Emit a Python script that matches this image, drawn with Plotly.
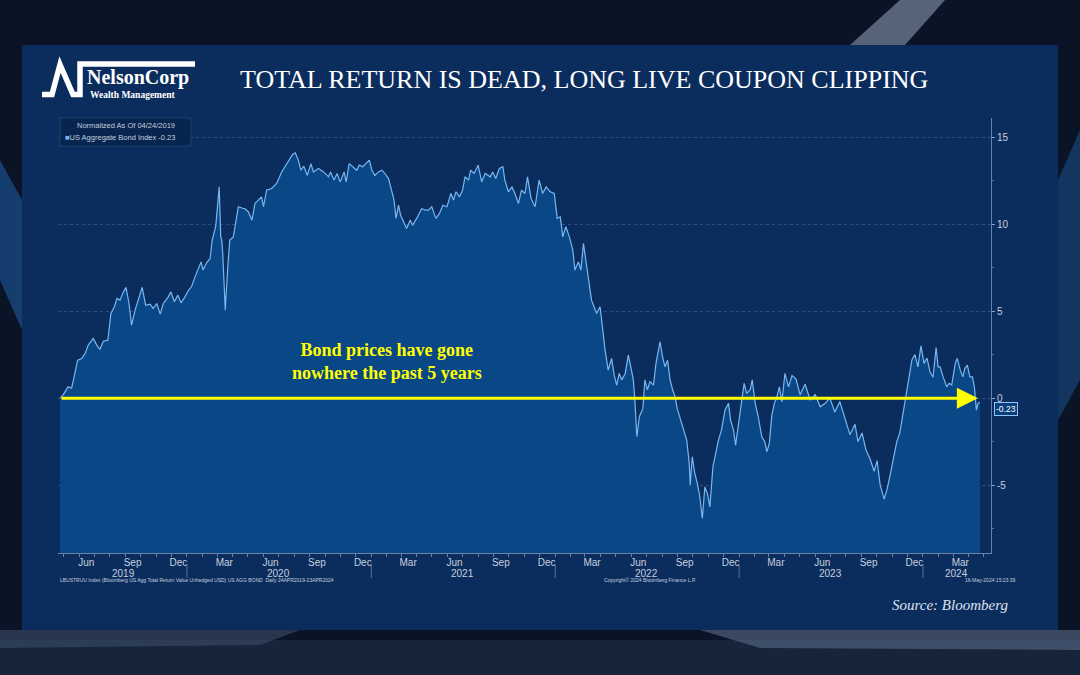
import plotly.graph_objects as go

# ---------------- DATA ----------------
dates = [
    "2019-04-24", "2019-04-30", "2019-05-10", "2019-05-17", "2019-05-22", "2019-05-29",
    "2019-06-06", "2019-06-13", "2019-06-19", "2019-06-29", "2019-07-06", "2019-07-12",
    "2019-07-19", "2019-07-28", "2019-08-03", "2019-08-10", "2019-08-15", "2019-08-21",
    "2019-08-28", "2019-09-02", "2019-09-08", "2019-09-13", "2019-09-20", "2019-09-26",
    "2019-10-04", "2019-10-11", "2019-10-20", "2019-10-26", "2019-11-02", "2019-11-09",
    "2019-11-15", "2019-11-25", "2019-11-30", "2019-12-07", "2019-12-14", "2019-12-20",
    "2019-12-28", "2020-01-04", "2020-01-10", "2020-01-17", "2020-01-24", "2020-01-29",
    "2020-02-02", "2020-02-09", "2020-02-16", "2020-02-20", "2020-02-27", "2020-03-05",
    "2020-03-08", "2020-03-10", "2020-03-12", "2020-03-17", "2020-03-22", "2020-03-26",
    "2020-04-02", "2020-04-07", "2020-04-12", "2020-04-22", "2020-04-25", "2020-05-02",
    "2020-05-09", "2020-05-15", "2020-05-22", "2020-05-28", "2020-06-01", "2020-06-07",
    "2020-06-17", "2020-06-27", "2020-07-07", "2020-07-17", "2020-07-24", "2020-07-29",
    "2020-08-03", "2020-08-09", "2020-08-14", "2020-08-20", "2020-08-27", "2020-09-03",
    "2020-09-08", "2020-09-18", "2020-09-28", "2020-10-08", "2020-10-12", "2020-10-19",
    "2020-10-25", "2020-10-31", "2020-11-08", "2020-11-12", "2020-11-18", "2020-11-26",
    "2020-12-03", "2020-12-08", "2020-12-15", "2020-12-21", "2020-12-28", "2021-01-02",
    "2021-01-08", "2021-01-15", "2021-01-22", "2021-01-28", "2021-02-04", "2021-02-10",
    "2021-02-15", "2021-02-19", "2021-02-24", "2021-02-28", "2021-03-05", "2021-03-12",
    "2021-03-19", "2021-03-24", "2021-04-01", "2021-04-11", "2021-04-18", "2021-04-24",
    "2021-05-01", "2021-05-09", "2021-05-16", "2021-05-23", "2021-05-31", "2021-06-08",
    "2021-06-13", "2021-06-18", "2021-06-25", "2021-07-01", "2021-07-06", "2021-07-13",
    "2021-07-17", "2021-07-24", "2021-08-01", "2021-08-08", "2021-08-15", "2021-08-25",
    "2021-08-30", "2021-09-05", "2021-09-12", "2021-09-19", "2021-09-23", "2021-09-30",
    "2021-10-07", "2021-10-13", "2021-10-20", "2021-10-26", "2021-11-02", "2021-11-07",
    "2021-11-14", "2021-11-22", "2021-11-30", "2021-12-07", "2021-12-14", "2021-12-22",
    "2021-12-30", "2022-01-05", "2022-01-11", "2022-01-16", "2022-01-22", "2022-01-29",
    "2022-02-05", "2022-02-09", "2022-02-16", "2022-02-21", "2022-02-26", "2022-03-03",
    "2022-03-08", "2022-03-14", "2022-03-19", "2022-03-24", "2022-03-31", "2022-04-05",
    "2022-04-10", "2022-04-16", "2022-04-23", "2022-04-28", "2022-05-03", "2022-05-08",
    "2022-05-13", "2022-05-20", "2022-05-26", "2022-05-31", "2022-06-05", "2022-06-08",
    "2022-06-12", "2022-06-17", "2022-06-24", "2022-06-28", "2022-07-03", "2022-07-08",
    "2022-07-15", "2022-07-20", "2022-07-28", "2022-08-02", "2022-08-07", "2022-08-12",
    "2022-08-17", "2022-08-22", "2022-08-27", "2022-08-31", "2022-09-07", "2022-09-14",
    "2022-09-19", "2022-09-24", "2022-09-26", "2022-09-30", "2022-10-05", "2022-10-10",
    "2022-10-15", "2022-10-20", "2022-10-25", "2022-10-30", "2022-11-04", "2022-11-10",
    "2022-11-16", "2022-11-21", "2022-11-27", "2022-12-04", "2022-12-11", "2022-12-15",
    "2022-12-21", "2022-12-25", "2022-12-30", "2023-01-06", "2023-01-11", "2023-01-16",
    "2023-01-23", "2023-01-27", "2023-02-02", "2023-02-08", "2023-02-15", "2023-02-21",
    "2023-02-25", "2023-03-02", "2023-03-07", "2023-03-12", "2023-03-17", "2023-03-22",
    "2023-03-27", "2023-04-02", "2023-04-09", "2023-04-16", "2023-04-24", "2023-05-02",
    "2023-05-12", "2023-05-22", "2023-06-01", "2023-06-11", "2023-06-21", "2023-06-30",
    "2023-07-10", "2023-07-20", "2023-07-30", "2023-08-09", "2023-08-19", "2023-08-25",
    "2023-09-02", "2023-09-10", "2023-09-18", "2023-09-26", "2023-10-02", "2023-10-08",
    "2023-10-16", "2023-10-22", "2023-10-28", "2023-11-03", "2023-11-10", "2023-11-16",
    "2023-11-22", "2023-11-28", "2023-12-04", "2023-12-10", "2023-12-16", "2023-12-22",
    "2023-12-28", "2024-01-03", "2024-01-09", "2024-01-15", "2024-01-21", "2024-01-27",
    "2024-01-31", "2024-02-04", "2024-02-10", "2024-02-17", "2024-02-22", "2024-02-27",
    "2024-03-05", "2024-03-09", "2024-03-15", "2024-03-20", "2024-03-24", "2024-03-29",
    "2024-04-03", "2024-04-08", "2024-04-12", "2024-04-16", "2024-04-19", "2024-04-23",
]
values = [
    0.00, 0.17, 0.65, 0.57, 1.22, 2.18,
    2.28, 2.57, 3.05, 3.43, 3.05, 2.80,
    3.27, 3.33, 4.87, 5.25, 5.73, 5.63,
    6.11, 6.36, 5.44, 4.20, 5.06, 5.63,
    6.36, 5.34, 5.40, 5.15, 5.44, 4.83,
    5.44, 5.82, 6.11, 5.54, 5.92, 5.48,
    5.82, 6.20, 6.40, 6.97, 7.54, 7.83,
    7.36, 7.78, 8.03, 9.08, 9.85, 12.14,
    9.27, 9.08, 8.32, 5.06, 7.54, 9.08,
    9.27, 10.04, 11.00, 10.90, 10.90, 10.70,
    10.23, 11.19, 11.38, 11.57, 11.00, 11.95,
    12.05, 12.34, 13.00, 13.48, 13.77, 14.02,
    14.10, 13.68, 13.10, 13.33, 12.80, 13.48,
    13.00, 13.20, 13.00, 12.72, 13.00, 12.53,
    12.91, 12.43, 13.00, 12.43, 13.48, 13.30,
    13.10, 13.39, 13.30, 13.48, 13.68, 13.10,
    12.80, 13.00, 13.10, 12.91, 12.62, 11.95,
    11.38, 10.33, 11.09, 10.52, 10.23, 9.75,
    10.23, 9.94, 10.33, 10.90, 10.80, 10.80,
    11.00, 10.33, 10.60, 11.09, 11.00, 11.76,
    11.38, 11.86, 11.57, 11.95, 12.72, 12.53,
    13.10, 12.91, 13.39, 12.43, 12.91, 12.72,
    13.00, 12.62, 13.20, 13.30, 12.53, 11.86,
    12.14, 11.76, 11.19, 11.95, 11.76, 12.72,
    11.48, 11.00, 12.53, 11.76, 12.14, 11.86,
    11.76, 10.33, 10.42, 9.27, 9.85, 9.27,
    8.50, 7.36, 7.83, 7.36, 8.89, 7.93,
    6.78, 5.63, 5.25, 4.87, 5.25, 3.91,
    2.76, 1.61, 2.28, 1.32, 0.75, 1.42,
    1.05, 1.42, 2.47, 1.80, 1.05, -0.10,
    -2.22, -1.07, -0.59, 1.05, 0.48, 0.95,
    0.75, 2.00, 3.24, 2.37, 1.80, 2.18,
    1.05, 0.48, 0.07, -0.59, -1.26, -1.84,
    -2.41, -3.75, -5.00, -3.37, -4.33, -4.90,
    -5.67, -6.91, -5.10, -5.48, -6.25, -3.95,
    -2.99, -2.41, -1.84, -0.69, -0.30, -1.26,
    -1.84, -2.70, -1.65, -0.10, 0.85, 0.27,
    0.48, 1.05, -0.30, -1.07, -2.22, -2.51,
    -3.09, -2.60, -0.98, -0.30, 0.07, 0.65,
    -0.21, 1.42, 0.65, 1.30, 1.10, 0.20,
    0.80, -0.10, 0.20, -0.50, -0.30, 0.00,
    -0.80, -0.20, -1.20, -2.10, -1.50, -2.50,
    -2.00, -3.00, -3.50, -4.20, -3.60, -5.00,
    -5.80, -5.20, -4.40, -3.50, -2.50, -2.00,
    -1.00, 0.00, 1.00, 2.20, 2.50, 1.80,
    3.00, 2.00, 2.30, 1.50, 1.20, 2.90,
    1.80, 1.80, 1.22, 0.65, 0.85, 0.75,
    2.00, 2.28, 1.61, 1.22, 1.70, 1.90,
    1.22, 1.22, 0.65, -0.69, -0.30, -0.23,
]

month_tick_dates = [
    "2019-06-15", "2019-09-15", "2019-12-15",
    "2020-03-15", "2020-06-15", "2020-09-15", "2020-12-15",
    "2021-03-15", "2021-06-15", "2021-09-15", "2021-12-15",
    "2022-03-15", "2022-06-15", "2022-09-15", "2022-12-15",
    "2023-03-15", "2023-06-15", "2023-09-15", "2023-12-15",
    "2024-03-15",
]
month_tick_labels = ["Jun", "Sep", "Dec"] + ["Mar", "Jun", "Sep", "Dec"] * 4 + ["Mar"]
year_labels = ["2019", "2020", "2021", "2022", "2023", "2024"]
year_label_dates = ["2019-08-28", "2020-07-01", "2021-07-01", "2022-07-01", "2023-07-01", "2024-03-08"]
year_boundaries = ["2020-01-01", "2021-01-01", "2022-01-01", "2023-01-01", "2024-01-01"]
y_ticks = [-5, 0, 5, 10, 15]
last_value = values[-1]

Y_RANGE = [-8.9, 16.1]
X_RANGE = ["2019-04-20", "2024-05-15"]

# ---------------- STYLE ----------------
W, H = 1080, 675
PANEL = "#0b2d5e"
PLOT_BG = "#032956"
FILL = "#0a4787"
LINE = "#7ab6ef"
TXT = "#c6cfdf"
YELLOW = "#ffff00"
SANS = "Liberation Sans Narrow, Liberation Sans, Arial"
SERIF = "Liberation Serif, Times New Roman, serif"


def px(x):
    return x / W


def py(y):
    return 1 - y / H


fig = go.Figure()

# baseline for area fill (bottom of the axis)
fig.add_trace(go.Scatter(x=dates, y=[Y_RANGE[0]] * len(dates), mode="lines",
                         line=dict(width=0, color=FILL), hoverinfo="skip", showlegend=False))
fig.add_trace(go.Scatter(x=dates, y=values, mode="lines", fill="tonexty", fillcolor=FILL,
                         line=dict(color=LINE, width=1.2), name="US Aggregate Bond Index",
                         showlegend=False))

shapes = []
# studio-like background hints
shapes += [
    dict(type="rect", xref="paper", yref="paper", x0=0, x1=1, y0=0, y1=1,
         fillcolor="#0a1426", line=dict(width=0), layer="below"),
    dict(type="path", xref="paper", yref="paper",
         path=f"M {px(850)} {py(45)} L {px(900)} {py(0)} L {px(945)} {py(0)} L {px(905)} {py(45)} Z",
         fillcolor="#8a98b0", line=dict(width=0), layer="below", opacity=0.6),
    dict(type="path", xref="paper", yref="paper",
         path=f"M {px(0)} {py(160)} L {px(22)} {py(200)} L {px(22)} {py(330)} L {px(0)} {py(280)} Z",
         fillcolor="#1f5fa8", line=dict(width=0), layer="below", opacity=0.55),
    dict(type="path", xref="paper", yref="paper",
         path=f"M {px(1058)} {py(180)} L {px(1080)} {py(130)} L {px(1080)} {py(380)} L {px(1058)} {py(420)} Z",
         fillcolor="#1f5fa8", line=dict(width=0), layer="below", opacity=0.45),
    dict(type="rect", xref="paper", yref="paper", x0=px(0), x1=px(1080), y0=py(675), y1=py(640),
         fillcolor="#18243a", line=dict(width=0), layer="below"),
    dict(type="path", xref="paper", yref="paper",
         path=f"M {px(700)} {py(630)} L {px(1080)} {py(630)} L {px(1080)} {py(650)} L {px(760)} {py(648)} Z",
         fillcolor="#5a6c88", line=dict(width=0), layer="below", opacity=0.6),
    dict(type="path", xref="paper", yref="paper",
         path=f"M {px(0)} {py(630)} L {px(300)} {py(630)} L {px(260)} {py(645)} L {px(0)} {py(648)} Z",
         fillcolor="#3a4c68", line=dict(width=0), layer="below", opacity=0.6),
]
# main panel
shapes.append(dict(type="rect", xref="paper", yref="paper", x0=px(22), x1=px(1058), y0=py(630), y1=py(45),
                   fillcolor=PANEL, line=dict(width=0), layer="below"))
# logo mark
shapes.append(dict(type="path", xref="paper", yref="paper",
                   path=(f"M {px(42)} {py(94.5)} L {px(52)} {py(94.5)} L {px(60)} {py(64.5)} "
                         f"L {px(73)} {py(94.5)} L {px(80)} {py(94.5)} L {px(80)} {py(64)} L {px(195)} {py(64)}"),
                   line=dict(color="white", width=5.5)))
# legend box
shapes.append(dict(type="rect", xref="paper", yref="paper", x0=px(60), x1=px(191), y0=py(146), y1=py(118),
                   fillcolor="#07254e", line=dict(color="#1f416f", width=1)))
# year boundary ticks below the axis
for b in year_boundaries:
    shapes.append(dict(type="line", xref="x", yref="paper", x0=b, x1=b, y0=py(564), y1=py(578),
                       line=dict(color="#5d7196", width=1)))

annotations = []
# title
annotations.append(dict(text="TOTAL RETURN IS DEAD, LONG LIVE COUPON CLIPPING", xref="paper", yref="paper",
                        x=px(584), y=py(80), showarrow=False, xanchor="center", yanchor="middle",
                        font=dict(family=SERIF, size=26, color="white")))
# logo text
annotations.append(dict(text="<b>NelsonCorp</b>", xref="paper", yref="paper", x=px(85), y=py(77.5),
                        showarrow=False, xanchor="left", yanchor="middle",
                        font=dict(family=SERIF, size=20, color="white")))
annotations.append(dict(text="<b>Wealth Management</b>", xref="paper", yref="paper", x=px(88), y=py(95),
                        showarrow=False, xanchor="left", yanchor="middle",
                        font=dict(family=SERIF, size=9.5, color="white")))
# legend text
annotations.append(dict(text="Normalized As Of 04/24/2019", xref="paper", yref="paper", x=px(125.5), y=py(126),
                        showarrow=False, xanchor="center", yanchor="middle",
                        font=dict(family=SANS, size=7.5, color=TXT)))
annotations.append(dict(text=f"<span style='color:{LINE}'>■</span>US Aggregate Bond Index {last_value:.2f}",
                        xref="paper", yref="paper", x=px(63), y=py(137.5),
                        showarrow=False, xanchor="left", yanchor="middle",
                        font=dict(family=SANS, size=7.5, color=TXT)))
# callout text
annotations.append(dict(text="<b>Bond prices have gone<br>nowhere the past 5 years</b>", xref="paper", yref="paper",
                        x=px(387), y=py(361), showarrow=False, xanchor="center", yanchor="middle",
                        font=dict(family=SERIF, size=18, color=YELLOW)))
# yellow arrow along zero
annotations.append(dict(x="2024-04-19", y=0, ax=dates[0], ay=0, xref="x", yref="y", axref="x", ayref="y",
                        text="", showarrow=True, arrowhead=2, arrowsize=1.4, arrowwidth=3,
                        arrowcolor=YELLOW, standoff=0))
# last value tag
annotations.append(dict(text=f"{last_value:.2f}", xref="paper", yref="y", x=px(993.5), y=last_value,
                        yshift=-7, showarrow=False, xanchor="left", yanchor="middle", bgcolor="#0c3d78",
                        bordercolor="#8cc6ff", borderwidth=1, borderpad=1,
                        font=dict(family=SANS, size=8.5, color="white")))
# year labels
for d, t in zip(year_label_dates, year_labels):
    annotations.append(dict(text=t, xref="x", yref="paper", x=d, y=py(573), showarrow=False,
                            xanchor="center", yanchor="middle", font=dict(family=SANS, size=10, color=TXT)))
# footer
annotations.append(dict(text="LBUSTRUU Index (Bloomberg US Agg Total Return Value Unhedged USD) US AGG BOND  Daily 24APR2019-23APR2024",
                        xref="paper", yref="paper", x=px(58), y=py(580), showarrow=False, xanchor="left",
                        yanchor="middle", font=dict(family=SANS, size=5, color=TXT)))
annotations.append(dict(text="Copyright© 2024 Bloomberg Finance L.P.", xref="paper", yref="paper", x=px(650),
                        y=py(580), showarrow=False, xanchor="center", yanchor="middle",
                        font=dict(family=SANS, size=5, color=TXT)))
annotations.append(dict(text="16-May-2024 15:23:39", xref="paper", yref="paper", x=px(1018), y=py(580),
                        showarrow=False, xanchor="right", yanchor="middle",
                        font=dict(family=SANS, size=5, color=TXT)))
annotations.append(dict(text="<i>Source: Bloomberg</i>", xref="paper", yref="paper", x=px(1010), y=py(605),
                        showarrow=False, xanchor="right", yanchor="middle",
                        font=dict(family=SERIF, size=15, color="#dfe4ee")))

fig.update_layout(
    width=W, height=H, autosize=False,
    margin=dict(l=0, r=0, t=0, b=0),
    paper_bgcolor="#0a1426", plot_bgcolor=PLOT_BG,
    showlegend=False,
    shapes=shapes, annotations=annotations,
    xaxis=dict(domain=[px(58), px(991)], range=X_RANGE, type="date",
               tickmode="array", tickvals=month_tick_dates, ticktext=month_tick_labels,
               ticks="", tickfont=dict(family=SANS, size=10, color=TXT),
               showgrid=False, zeroline=False, showline=True, linecolor="#6d80a6", linewidth=1,
               minor=dict(dtick="M1", tick0="2019-05-01", ticks="outside", ticklen=3,
                          tickcolor="#6d80a6", showgrid=False),
               fixedrange=True),
    yaxis=dict(domain=[py(553), py(118)], range=Y_RANGE, side="right",
               tickmode="array", tickvals=y_ticks, ticktext=[str(v) for v in y_ticks],
               ticks="outside", ticklen=3, tickcolor="#8a9cc0",
               tickfont=dict(family=SANS, size=10, color=TXT),
               showgrid=True, gridcolor="#2a5088", griddash="dot", gridwidth=1,
               zeroline=False, showline=True, linecolor="#6d80a6", linewidth=1,
               minor=dict(dtick=2.5, tick0=0, ticks="outside", ticklen=2, tickcolor="#5d7196", showgrid=False),
               fixedrange=True),
)

fig.write_html("out.html", config={"displayModeBar": False, "staticPlot": False},
               post_script="document.body.style.margin='0';document.body.style.padding='0';"
                           "document.body.style.background='#0a1426';")
